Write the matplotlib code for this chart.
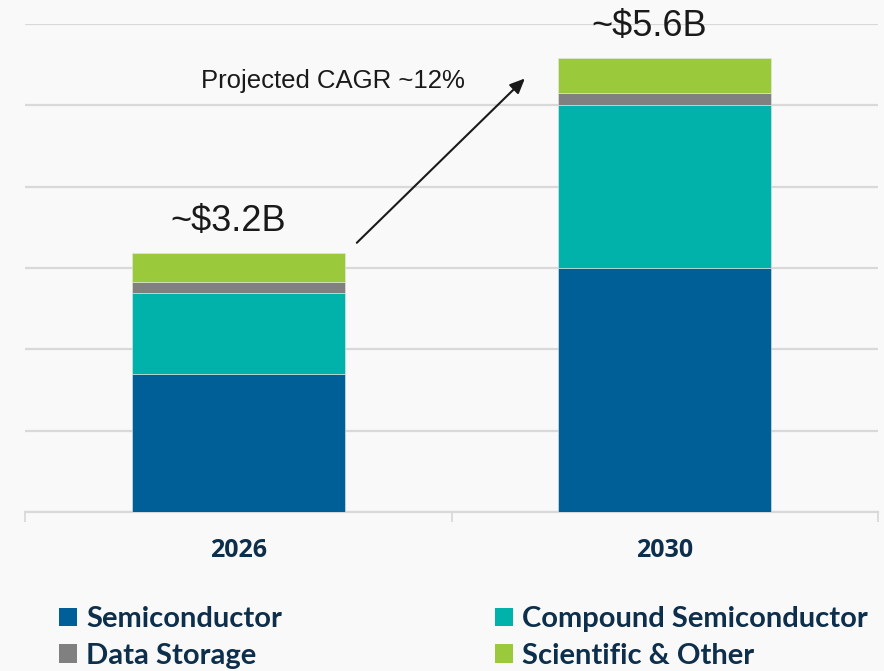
import matplotlib
matplotlib.use("Agg")
from matplotlib import pyplot as plt
from matplotlib.patches import Patch

# market size in $B
years = ["2026", "2030"]
semiconductor = [1.70, 3.00]
compound = [0.99, 2.00]
data_storage = [0.14, 0.15]
scientific = [0.36, 0.43]

series_names = ["Semiconductor", "Compound Semiconductor", "Data Storage", "Scientific & Other"]
series_values = [semiconductor, compound, data_storage, scientific]
colors = ["#005f96", "#00b2a9", "#808080", "#9bc93c"]

cagr_text = "Projected CAGR ~12%"

bg = "#f9f9f9"
navy = "#0d2f4c"
grid_col = "#d9d9d9"

fig = plt.figure(figsize=(8.84, 6.71), dpi=100, facecolor=bg)
ax = fig.add_axes([25 / 884, 159 / 671, 853 / 884, 488 / 671])
ax.set_facecolor(bg)

x = list(range(len(years)))
bottoms = [0.0] * len(years)
for name, vals, col in zip(series_names, series_values, colors):
    ax.bar(x, vals, width=0.5, bottom=bottoms, color=col, label=name,
           edgecolor="#e8e8e8", linewidth=0.4, zorder=3)
    bottoms = [b + v for b, v in zip(bottoms, vals)]

# total labels above the bars
offsets = [-7, -11]
for xi, tot, dx in zip(x, bottoms, offsets):
    ax.annotate("~${:.1f}B".format(tot), (xi, tot), xytext=(dx, 10),
                textcoords="offset points", ha="center", va="bottom",
                fontsize=26, family="Liberation Sans", color="#1a1a1a")

# growth arrow
ax.annotate("", xy=(0.672, 5.33), xytext=(0.278, 3.31),
            arrowprops=dict(arrowstyle="-|>,head_length=0.9,head_width=0.4",
                            color="#1a1a1a", lw=1.5, shrinkA=0, shrinkB=0))
ax.text(0.222, 5.3, cagr_text, ha="center", va="center", fontsize=18.5,
        family="Liberation Sans", color="#1a1a1a")

ax.set_xlim(-0.5, 1.5)
ax.set_ylim(0, 6)
ax.set_yticks([0, 1, 2, 3, 4, 5, 6])
ax.set_yticklabels([])
ax.yaxis.grid(True, color=grid_col, linewidth=1.6)
ax.set_axisbelow(True)
ax.tick_params(axis="y", length=0)

ax.set_xticks(x)
ax.set_xticklabels(years, fontsize=18, fontweight="bold", family="Open Sans", color=navy)
ax.set_xticks([-0.5, 0.5, 1.5], minor=True)
ax.tick_params(axis="x", which="major", length=0, pad=19)
ax.tick_params(axis="x", which="minor", length=7.5, width=1.3, color=grid_col)

for s in ["top", "right", "left"]:
    ax.spines[s].set_visible(False)
ax.spines["bottom"].set_color(grid_col)
ax.spines["bottom"].set_linewidth(1.6)

handles = [Patch(facecolor=c, label=n) for n, c in zip(series_names, colors)]
order = [0, 2, 1, 3]
leg = fig.legend([handles[i] for i in order], [series_names[i] for i in order],
                 loc="upper left", bbox_to_anchor=(33 / 884, 1 - 580 / 671), ncol=2,
                 frameon=False, handlelength=0.62, handleheight=0.62, handletextpad=0.3,
                 columnspacing=7.3, labelspacing=0.36,
                 prop=dict(family="Lato", weight="bold", size=21))
for t in leg.get_texts():
    t.set_color(navy)

fig.savefig("out.png", dpi=100, facecolor=bg)
